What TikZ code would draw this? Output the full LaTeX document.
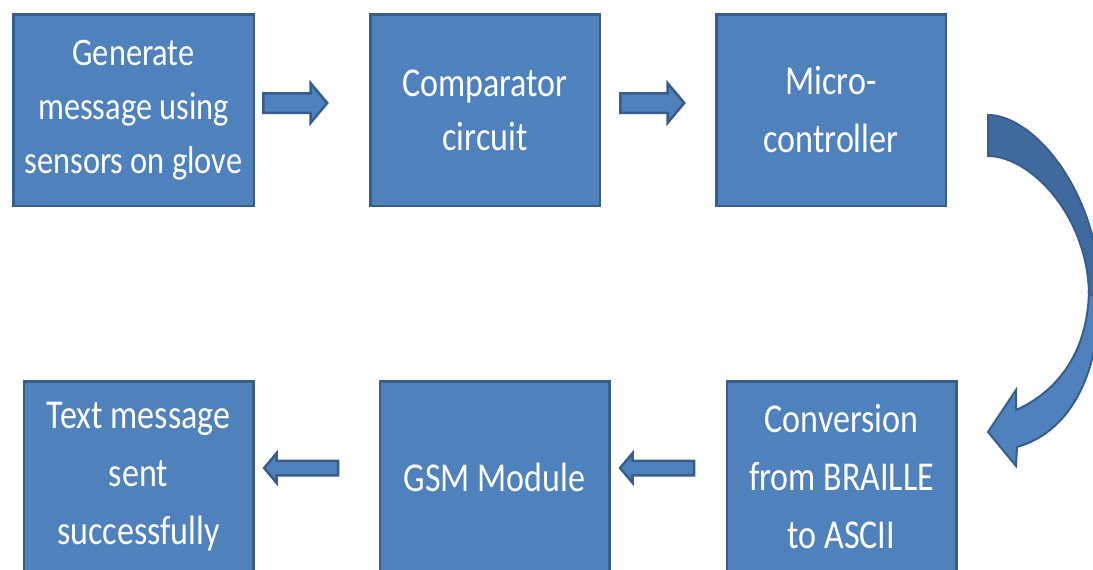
\documentclass[tikz,border=0pt]{standalone}
\usepackage{fontspec}
\newfontfamily\boxfont[FakeStretch=0.83]{Carlito}
\usetikzlibrary{positioning}
\usetikzlibrary{shapes.arrows}

\definecolor{boxblue}{RGB}{79,129,189}
\definecolor{boxline}{RGB}{56,93,138}
\definecolor{backblue}{RGB}{63,106,158}

\tikzset{
  flowbox/.style={rectangle, fill=boxblue, draw=boxline, line width=2.5pt,
    minimum width=229.5pt, minimum height=191.5pt, align=center, text=white,
    font=\boxfont\fontsize{41}{58}\selectfont},
  fatarrow/.style={single arrow, fill=boxblue, draw=boxline, line width=2.5pt,
    inner xsep=0pt, inner ysep=8.5pt, minimum height=64pt, minimum width=37pt,
    single arrow head extend=10pt, single arrow tip angle=100},
  thinarrow/.style={fatarrow, inner ysep=6pt, minimum height=74pt, minimum width=27pt,
    single arrow head extend=7.5pt, shape border rotate=180}
}

\begin{document}
\begin{tikzpicture}[x=1pt,y=-1pt]
\useasboundingbox (0,0) rectangle (1093,570);
\clip (0,0) rectangle (1093,570);

\node[flowbox, minimum width=240.5pt, font=\boxfont\fontsize{39}{54}\selectfont] (gen) at (133.5,110) {Generate\\message using\\sensors on glove};
\node[flowbox, right=114pt of gen, font=\boxfont\fontsize{41}{54}\selectfont] (comp) {Comparator\\circuit};
\node[flowbox, right=114pt of comp] (micro) {Micro-\\controller};

\node[flowbox] (sent) at (138.5,477) {Text message\\sent\\successfully};
\node[flowbox, right=124pt of sent] (gsm) {GSM Module};
\node[flowbox, right=115pt of gsm] (conv) {Conversion\\from BRAILLE\\to ASCII};

\node[fatarrow, anchor=tail] (a1) at ([xshift=7pt,yshift=7pt]gen.east) {};
\node[fatarrow, anchor=tail] (a2) at ([xshift=18pt,yshift=7pt]comp.east) {};
\node[thinarrow, anchor=tip] (a4) at ([xshift=8pt,yshift=9pt]sent.east) {};
\node[thinarrow, anchor=tip] (a5) at ([xshift=8pt,yshift=9pt]gsm.east) {};

\filldraw[fill=boxblue, draw=boxline, line width=2pt] (1089,290) -- (1100,290)
  .. controls (1100,390) and (1060,435) .. (1017,447) -- (1016,466) -- (988,432)
  -- (1016,390) -- (1016,410) .. controls (1050,395) and (1088,360) .. (1089,290) -- cycle;
\filldraw[fill=backblue, draw=boxline, line width=2pt] (988,115)
  .. controls (1035,115) and (1100,195) .. (1100,295) -- (1089,295)
  .. controls (1088,215) and (1030,156) .. (988,156) -- cycle;
\end{tikzpicture}
\end{document}
